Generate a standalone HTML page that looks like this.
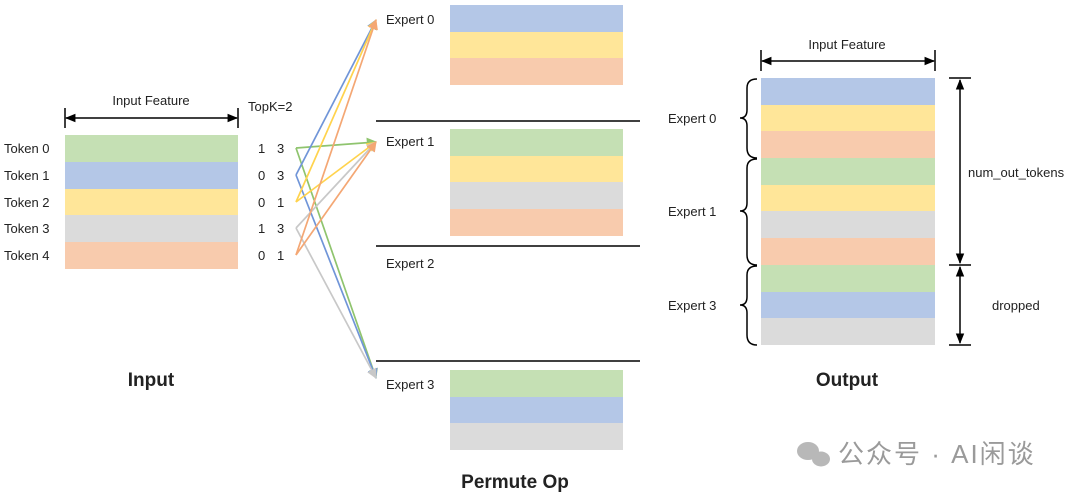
<!DOCTYPE html>
<html><head><meta charset="utf-8"><style>
body{margin:0;background:#fff}
svg{display:block}
text{font-family:"Liberation Sans","Noto Sans CJK SC",sans-serif;fill:#222}
</style></head><body>
<svg width="1080" height="496" viewBox="0 0 1080 496" xmlns="http://www.w3.org/2000/svg">
<defs>
<marker id="ab" viewBox="0 0 10 10" refX="9" refY="5" markerWidth="7" markerHeight="7" orient="auto-start-reverse"><path d="M0,1 L10,5 L0,9 z" fill="#000"/></marker>
<marker id="mg" viewBox="0 0 10 10" refX="9" refY="5" markerWidth="6" markerHeight="6" orient="auto"><path d="M0,0 L10,5 L0,10 z" fill="#8fc46e"/></marker>
<marker id="mb" viewBox="0 0 10 10" refX="9" refY="5" markerWidth="6" markerHeight="6" orient="auto"><path d="M0,0 L10,5 L0,10 z" fill="#7095d8"/></marker>
<marker id="my" viewBox="0 0 10 10" refX="9" refY="5" markerWidth="6" markerHeight="6" orient="auto"><path d="M0,0 L10,5 L0,10 z" fill="#ffd34d"/></marker>
<marker id="mr" viewBox="0 0 10 10" refX="9" refY="5" markerWidth="6" markerHeight="6" orient="auto"><path d="M0,0 L10,5 L0,10 z" fill="#f4a774"/></marker>
<marker id="mx" viewBox="0 0 10 10" refX="9" refY="5" markerWidth="6" markerHeight="6" orient="auto"><path d="M0,0 L10,5 L0,10 z" fill="#c8c8c8"/></marker>
</defs>

<!-- Input -->
<text x="151" y="105" font-size="13" text-anchor="middle">Input Feature</text>
<line x1="65" y1="108" x2="65" y2="128" stroke="#000" stroke-width="1.5"/>
<line x1="238" y1="108" x2="238" y2="128" stroke="#000" stroke-width="1.5"/>
<line x1="66" y1="118" x2="237" y2="118" stroke="#000" stroke-width="1.5" marker-start="url(#ab)" marker-end="url(#ab)"/>
<rect x="65" y="135" width="173" height="27" fill="#c5e0b4"/>
<rect x="65" y="162" width="173" height="27" fill="#b4c7e7"/>
<rect x="65" y="189" width="173" height="26" fill="#ffe699"/>
<rect x="65" y="215" width="173" height="27" fill="#dbdbdb"/>
<rect x="65" y="242" width="173" height="27" fill="#f8cbad"/>
<g font-size="13">
<text x="4" y="153">Token 0</text><text x="4" y="180">Token 1</text><text x="4" y="207">Token 2</text><text x="4" y="233">Token 3</text><text x="4" y="260">Token 4</text>
<text x="248" y="111">TopK=2</text>
<text x="258" y="153">1</text><text x="277" y="153">3</text>
<text x="258" y="180">0</text><text x="277" y="180">3</text>
<text x="258" y="207">0</text><text x="277" y="207">1</text>
<text x="258" y="233">1</text><text x="277" y="233">3</text>
<text x="258" y="260">0</text><text x="277" y="260">1</text>
</g>
<text x="151" y="386" font-size="19" font-weight="bold" text-anchor="middle" fill="#000">Input</text>

<!-- arrows -->
<g stroke-width="1.7" fill="none">
<path d="M296,148 L376,142" stroke="#8fc46e" marker-end="url(#mg)"/>
<path d="M296,148 L376,378" stroke="#8fc46e" marker-end="url(#mg)"/>
<path d="M296,175 L376,20" stroke="#7095d8" marker-end="url(#mb)"/>
<path d="M296,175 L376,378" stroke="#7095d8" marker-end="url(#mb)"/>
<path d="M296,202 L376,20" stroke="#ffd34d" marker-end="url(#my)"/>
<path d="M296,202 L376,142" stroke="#ffd34d" marker-end="url(#my)"/>
<path d="M296,228 L376,142" stroke="#c8c8c8" marker-end="url(#mx)"/>
<path d="M296,228 L376,378" stroke="#c8c8c8" marker-end="url(#mx)"/>
<path d="M296,255 L376,20" stroke="#f4a774" marker-end="url(#mr)"/>
<path d="M296,255 L376,142" stroke="#f4a774" marker-end="url(#mr)"/>
</g>

<!-- Experts middle -->
<g font-size="13">
<text x="386" y="24">Expert 0</text><text x="386" y="146">Expert 1</text><text x="386" y="268">Expert 2</text><text x="386" y="389">Expert 3</text>
</g>
<rect x="450" y="5" width="173" height="27" fill="#b4c7e7"/>
<rect x="450" y="32" width="173" height="26" fill="#ffe699"/>
<rect x="450" y="58" width="173" height="27" fill="#f8cbad"/>
<line x1="376" y1="121" x2="640" y2="121" stroke="#000" stroke-width="1.5"/>
<rect x="450" y="129" width="173" height="27" fill="#c5e0b4"/>
<rect x="450" y="156" width="173" height="26" fill="#ffe699"/>
<rect x="450" y="182" width="173" height="27" fill="#dbdbdb"/>
<rect x="450" y="209" width="173" height="27" fill="#f8cbad"/>
<line x1="376" y1="246" x2="640" y2="246" stroke="#000" stroke-width="1.5"/>
<line x1="376" y1="361" x2="640" y2="361" stroke="#000" stroke-width="1.5"/>
<rect x="450" y="370" width="173" height="27" fill="#c5e0b4"/>
<rect x="450" y="397" width="173" height="26" fill="#b4c7e7"/>
<rect x="450" y="423" width="173" height="27" fill="#dbdbdb"/>
<text x="515" y="488" font-size="19" font-weight="bold" text-anchor="middle" fill="#000">Permute Op</text>

<!-- Output -->
<text x="847" y="49" font-size="13" text-anchor="middle">Input Feature</text>
<line x1="761" y1="50" x2="761" y2="71" stroke="#000" stroke-width="1.5"/>
<line x1="935" y1="50" x2="935" y2="71" stroke="#000" stroke-width="1.5"/>
<line x1="762" y1="61" x2="934" y2="61" stroke="#000" stroke-width="1.5" marker-start="url(#ab)" marker-end="url(#ab)"/>
<rect x="761" y="78" width="174" height="27" fill="#b4c7e7"/>
<rect x="761" y="105" width="174" height="26" fill="#ffe699"/>
<rect x="761" y="131" width="174" height="27" fill="#f8cbad"/>
<rect x="761" y="158" width="174" height="27" fill="#c5e0b4"/>
<rect x="761" y="185" width="174" height="26" fill="#ffe699"/>
<rect x="761" y="211" width="174" height="27" fill="#dbdbdb"/>
<rect x="761" y="238" width="174" height="27" fill="#f8cbad"/>
<rect x="761" y="265" width="174" height="27" fill="#c5e0b4"/>
<rect x="761" y="292" width="174" height="26" fill="#b4c7e7"/>
<rect x="761" y="318" width="174" height="27" fill="#dbdbdb"/>
<g stroke="#000" stroke-width="1.5" fill="none">
<path d="M757,79 Q747,79 747,88 L747,110 Q747,118 740,118 Q747,118 747,126 L747,148 Q747,158 757,158"/>
<path d="M757,159 Q747,159 747,168 L747,203 Q747,211 740,211 Q747,211 747,219 L747,255 Q747,265 757,265"/>
<path d="M757,266 Q747,266 747,275 L747,297 Q747,305 740,305 Q747,305 747,313 L747,335 Q747,345 757,345"/>
<line x1="949" y1="78" x2="971" y2="78"/>
<line x1="949" y1="265" x2="971" y2="265"/>
<line x1="949" y1="345" x2="971" y2="345"/>
<line x1="960" y1="80" x2="960" y2="263" marker-start="url(#ab)" marker-end="url(#ab)"/>
<line x1="960" y1="267" x2="960" y2="343" marker-start="url(#ab)" marker-end="url(#ab)"/>
</g>
<g font-size="13">
<text x="668" y="123">Expert 0</text><text x="668" y="216">Expert 1</text><text x="668" y="310">Expert 3</text>
<text x="968" y="177">num_out_tokens</text><text x="992" y="310">dropped</text>
</g>
<text x="847" y="386" font-size="19" font-weight="bold" text-anchor="middle" fill="#000">Output</text>

<!-- watermark -->
<g fill="#b8b8b8">
<ellipse cx="808" cy="451" rx="11" ry="9"/>
<ellipse cx="821" cy="459" rx="9" ry="7.5"/>
</g>
<text x="838" y="463" font-size="26" letter-spacing="2" style="fill:#9a9a9a">公众号 · AI闲谈</text>
</svg>
</body></html>
